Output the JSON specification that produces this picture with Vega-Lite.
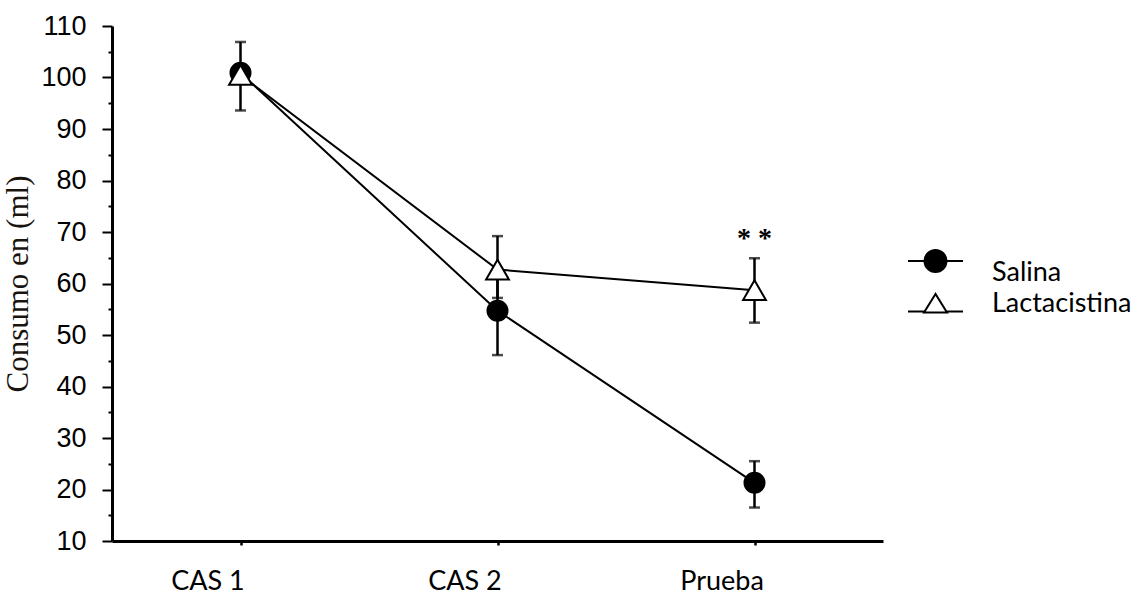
{
  "$schema": "https://vega.github.io/schema/vega-lite/v6.json",
  "width": 771,
  "height": 515,
  "autosize": "none",
  "padding": {"left": 112, "top": 26, "right": 258, "bottom": 54},
  "background": "white",
  "config": {"view": {"stroke": null}, "axis": {"grid": false}},
  "datasets": {
    "stats": [
      {"phase": "CAS 1", "group": "Salina", "mean": 100.9, "lo": 99.2, "hi": 102.4},
      {"phase": "CAS 2", "group": "Salina", "mean": 54.7, "lo": 46.1, "hi": 63.0},
      {"phase": "Prueba", "group": "Salina", "mean": 21.3, "lo": 16.5, "hi": 25.5},
      {"phase": "CAS 1", "group": "Lactacistina", "mean": 100.5, "lo": 93.6, "hi": 106.9},
      {"phase": "CAS 2", "group": "Lactacistina", "mean": 62.7, "lo": 57.2, "hi": 69.2},
      {"phase": "Prueba", "group": "Lactacistina", "mean": 58.7, "lo": 52.4, "hi": 64.9}
    ],
    "notes": [
      {"phase": "Prueba", "y": 68.6, "label": "* *"}
    ]
  },
  "data": {"name": "stats"},
  "encoding": {
    "x": {
      "field": "phase",
      "type": "nominal",
      "sort": ["CAS 1", "CAS 2", "Prueba"],
      "scale": {"type": "point", "padding": 0.5, "domain": ["CAS 1", "CAS 2", "Prueba"]},
      "axis": {
        "title": null,
        "labelAngle": 0,
        "domainColor": "black",
        "domainWidth": 3,
        "tickColor": "black",
        "tickWidth": 2.5,
        "tickSize": 4,
        "labelFont": "Lato",
        "labelFontSize": 27,
        "labelColor": "black",
        "labelOffset": -33,
        "labelPadding": 23,
        "labelBaseline": "top"
      }
    }
  },
  "resolve": {"axis": {"y": "independent"}},
  "layer": [
    {
      "mark": {
        "type": "errorbar",
        "ticks": {"size": 11, "thickness": 2.5, "color": "black"},
        "rule": {"strokeWidth": 2.5, "color": "black"}
      },
      "encoding": {
        "y": {"field": "lo", "type": "quantitative", "scale": {"domain": [10, 110], "nice": false, "zero": false}, "axis": null},
        "y2": {"field": "hi"},
        "detail": {"field": "group"}
      }
    },
    {
      "mark": {"type": "line", "color": "black", "strokeWidth": 2},
      "encoding": {
        "y": {"field": "mean", "type": "quantitative", "axis": null},
        "detail": {"field": "group"}
      }
    },
    {
      "mark": {"type": "point", "filled": true, "stroke": "black", "strokeWidth": 2, "opacity": 1},
      "encoding": {
        "y": {
          "field": "mean",
          "type": "quantitative",
          "axis": {
            "orient": "left",
            "values": [10, 20, 30, 40, 50, 60, 70, 80, 90, 100, 110],
            "title": "Consumo en (ml)",
            "titleFont": "Liberation Serif",
            "titleFontSize": 31,
            "titleFontWeight": "normal",
            "titleColor": "#1a1410",
            "titlePadding": 6,
            "domainColor": "black",
            "domainWidth": 3,
            "tickColor": "black",
            "tickWidth": 2,
            "tickSize": 10,
            "labelFont": "Liberation Sans",
            "labelFontSize": 27,
            "labelColor": "black",
            "labelPadding": 16
          }
        },
        "order": {"field": "group", "sort": "descending"},
        "shape": {
          "condition": {"test": "datum.group === 'Salina'", "value": "circle"},
          "value": "triangle-up"
        },
        "fill": {
          "condition": {"test": "datum.group === 'Salina'", "value": "black"},
          "value": "white"
        },
        "size": {
          "condition": {"test": "datum.group === 'Salina'", "value": 400},
          "value": 520
        }
      }
    },
    {
      "mark": {"type": "point", "filled": false, "strokeWidth": 2, "opacity": 0, "size": 400},
      "encoding": {
        "y": {"field": "mean", "type": "quantitative", "axis": null},
        "shape": {
          "field": "group",
          "type": "nominal",
          "title": null,
          "scale": {
            "domain": ["Salina", "Lactacistina"],
            "range": [
              "M-2.75,-1.15H-1.1M1.1,-1.15H2.75M-1.1,-1.15A1.1,1.1 0 1,0 1.1,-1.15A1.1,1.1 0 1,0 -1.1,-1.15Z",
              "M-2.75,0.8H-1.08M1.08,0.8H2.75M0,-0.95L-1.15,0.9L1.15,0.9Z"
            ]
          },
          "legend": {
            "title": null,
            "orient": "none",
            "legendX": 810,
            "legendY": 233,
            "padding": 0,
            "rowPadding": 3,
            "labelOffset": 43,
            "labelFont": "Lato",
            "labelFontSize": 27,
            "labelColor": "black",
            "symbolSize": 400,
            "symbolOpacity": 1,
            "symbolStrokeWidth": 2
          }
        },
        "fill": {
          "field": "group",
          "type": "nominal",
          "title": null,
          "scale": {"domain": ["Salina", "Lactacistina"], "range": ["black", "white"]},
          "legend": {
            "title": null,
            "orient": "none",
            "legendX": 810,
            "legendY": 233,
            "padding": 0,
            "rowPadding": 3,
            "labelOffset": 43,
            "labelFont": "Lato",
            "labelFontSize": 27,
            "labelColor": "black",
            "symbolSize": 400,
            "symbolOpacity": 1,
            "symbolStrokeWidth": 2
          }
        },
        "stroke": {
          "field": "group",
          "type": "nominal",
          "title": null,
          "scale": {"domain": ["Salina", "Lactacistina"], "range": ["black", "black"]},
          "legend": {
            "title": null,
            "orient": "none",
            "legendX": 810,
            "legendY": 233,
            "padding": 0,
            "rowPadding": 3,
            "labelOffset": 43,
            "labelFont": "Lato",
            "labelFontSize": 27,
            "labelColor": "black",
            "symbolSize": 400,
            "symbolOpacity": 1,
            "symbolStrokeWidth": 2
          }
        }
      }
    },
    {
      "data": {"name": "notes"},
      "mark": {"type": "text", "font": "Liberation Serif", "fontSize": 28, "fontWeight": "bold", "color": "black", "baseline": "middle"},
      "encoding": {
        "y": {
          "field": "y",
          "type": "quantitative",
          "axis": {
            "orient": "left",
            "values": [15, 25, 35, 45, 55, 65, 75, 85, 95, 105],
            "labels": false,
            "domain": false,
            "title": null,
            "tickColor": "black",
            "tickWidth": 2,
            "tickSize": 4
          }
        },
        "text": {"field": "label"}
      }
    }
  ]
}
